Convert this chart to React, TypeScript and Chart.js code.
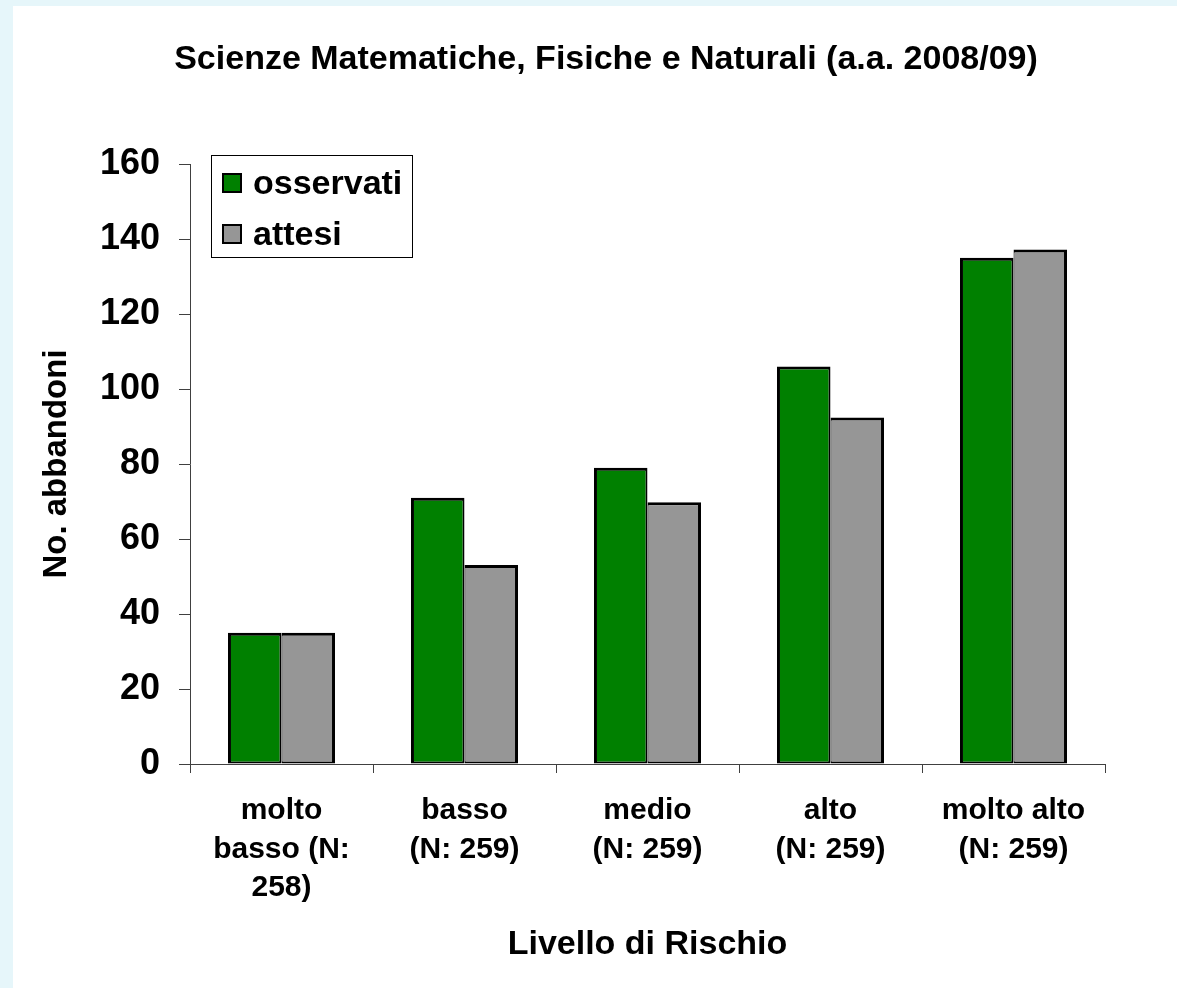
import React, { useEffect, useRef } from 'react';
import { Chart, registerables } from 'chart.js';

Chart.register(...registerables);

const categories: string[][] = [
  ['molto', 'basso (N:', '258)'],
  ['basso', '(N: 259)'],
  ['medio', '(N: 259)'],
  ['alto', '(N: 259)'],
  ['molto alto', '(N: 259)'],
];
const observed = [35, 71, 79, 106, 135];
const expected = [35, 53.1, 69.8, 92.4, 137.2];
const seriesNames = ['osservati', 'attesi'];
const seriesColors = ['#008000', '#969696'];
const chartTitle = 'Scienze Matematiche, Fisiche e Naturali (a.a. 2008/09)';
const xTitle = 'Livello di Rischio';
const yTitle = 'No. abbandoni';
const yMin = 0;
const yMax = 160;
const yStep = 20;

const FONT = '"Liberation Sans", Arial, sans-serif';
const W = 1177;
const H = 988;

const decorPlugin = {
  id: 'decor',
  beforeDraw(chart: any) {
    const ctx = chart.ctx;
    ctx.save();
    ctx.fillStyle = '#e6f6fa';
    ctx.fillRect(0, 0, W, H);
    ctx.fillStyle = '#ffffff';
    ctx.fillRect(13, 6, W - 13, H - 6);
    ctx.restore();
  },
  afterDraw(chart: any) {
    const ctx = chart.ctx;
    ctx.save();
    // title
    ctx.fillStyle = '#000';
    ctx.font = `bold 34px ${FONT}`;
    ctx.textAlign = 'center';
    ctx.textBaseline = 'alphabetic';
    ctx.fillText(chartTitle, 606, 69);
    // legend
    const bx = 211, by = 155, bw = 201, bh = 102;
    ctx.fillStyle = '#fff';
    ctx.fillRect(bx, by, bw, bh);
    ctx.strokeStyle = '#000';
    ctx.lineWidth = 1;
    ctx.strokeRect(bx + 0.5, by + 0.5, bw, bh);
    const rows = [183, 234];
    chart.data.datasets.forEach((ds: any, i: number) => {
      const cy = rows[i];
      ctx.fillStyle = ds.backgroundColor;
      ctx.fillRect(223, cy - 9, 18, 18);
      ctx.lineWidth = 2;
      ctx.strokeStyle = '#000';
      ctx.strokeRect(223, cy - 9, 18, 18);
      ctx.fillStyle = '#000';
      ctx.font = `bold 34px ${FONT}`;
      ctx.textAlign = 'left';
      ctx.textBaseline = 'alphabetic';
      ctx.fillText(ds.label, 253, cy + 11);
    });
    ctx.restore();
  },
};

export default function App() {
  const ref = useRef<HTMLCanvasElement | null>(null);
  useEffect(() => {
    if (!ref.current) return;
    const chart = new Chart(ref.current, {
      type: 'bar',
      data: {
        labels: categories,
        datasets: [
          {
            label: seriesNames[0],
            data: observed,
            backgroundColor: seriesColors[0],
            borderColor: '#000',
            borderWidth: { top: 3, left: 3, right: 2, bottom: 2 },
            borderSkipped: false,
            barPercentage: 1,
            categoryPercentage: 0.585,
          },
          {
            label: seriesNames[1],
            data: expected,
            backgroundColor: seriesColors[1],
            borderColor: '#000',
            borderWidth: { top: 3, left: 1, right: 3, bottom: 2 },
            borderSkipped: false,
            barPercentage: 1,
            categoryPercentage: 0.585,
          },
        ],
      },
      options: {
        responsive: false,
        animation: false,
        layout: { padding: { left: 0, right: 72, top: 164, bottom: 0 } },
        plugins: {
          legend: { display: false },
          title: { display: false },
          tooltip: { enabled: false },
        },
        scales: {
          x: {
            offset: true,
            grid: {
              offset: true,
              drawOnChartArea: false,
              drawTicks: true,
              tickLength: 9,
              color: '#404040',
            },
            border: { display: true, color: '#404040', width: 1 },
            ticks: {
              color: '#000',
              font: { family: FONT, size: 30, weight: 'bold', lineHeight: 1.28 },
              padding: 19,
              maxRotation: 0,
              autoSkip: false,
            },
            title: {
              display: true,
              text: xTitle,
              color: '#000',
              font: { family: FONT, size: 34, weight: 'bold', lineHeight: 1.2 },
              padding: { top: 0, bottom: 23 },
            },
            afterFit(scale: any) {
              scale.height = H - 764;
            },
          },
          y: {
            min: yMin,
            max: yMax,
            ticks: {
              stepSize: yStep,
              color: '#000',
              font: { family: FONT, size: 36, weight: 'bold' },
              padding: 19,
            },
            grid: {
              drawOnChartArea: false,
              drawTicks: true,
              tickLength: 11,
              color: '#404040',
            },
            border: { display: true, color: '#404040', width: 1 },
            title: {
              display: true,
              text: yTitle,
              color: '#000',
              font: { family: FONT, size: 33, weight: 'bold', lineHeight: 1.2 },
              padding: { top: 37, bottom: 0 },
            },
            afterFit(scale: any) {
              scale.width = 190;
            },
          },
        },
      },
      plugins: [decorPlugin],
    } as any);
    return () => chart.destroy();
  }, []);
  return (
    <div style={{ position: 'absolute', left: 0, top: 0, width: W, height: H }}>
      <canvas ref={ref} width={W} height={H} style={{ display: 'block', width: W, height: H }} />
    </div>
  );
}
